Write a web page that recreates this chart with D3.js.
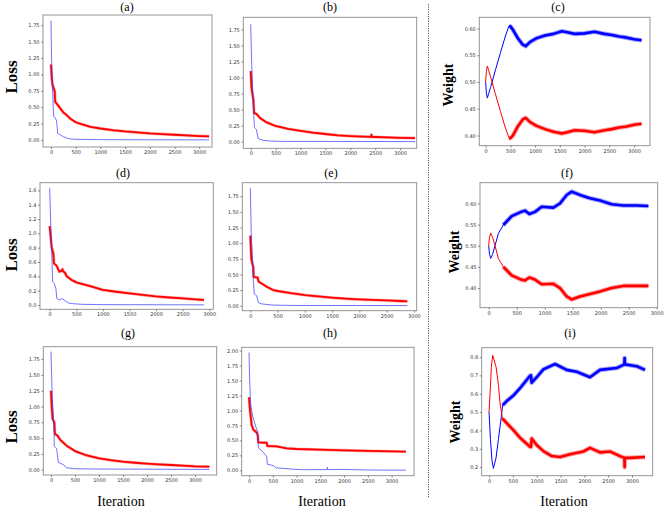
<!DOCTYPE html>
<html><head><meta charset="utf-8">
<script src="https://cdn.jsdelivr.net/npm/d3@7"></script>
<style>body{margin:0;background:#fff}</style></head>
<body>
<svg id="chart" width="664" height="508"></svg>
<script>
// ---------- data ----------
const xTicks = [0,500,1000,1500,2000,2500,3000];
const ticksA = [0,0.25,0.5,0.75,1.0,1.25,1.5,1.75];
const ticksD = [0,0.2,0.4,0.6,0.8,1.0,1.2,1.4,1.6];
const ticksH = [0,0.25,0.5,0.75,1.0,1.25,1.5,1.75,2.0];
const ticksC = [0.40,0.45,0.50,0.55,0.60];
const ticksI = [0.2,0.3,0.4,0.5,0.6,0.7,0.8];
const titles = ["(a)","(b)","(c)","(d)","(e)","(f)","(g)","(h)","(i)"];

const redA = [[0,1.15],[15,0.95],[30,0.85],[50,0.8],[75,0.74],[85,0.58],[120,0.55],[150,0.52],[200,0.47],[250,0.42],[300,0.39],[400,0.32],[500,0.27],[600,0.245],[800,0.2],[1000,0.175],[1250,0.15],[1500,0.13],[1750,0.115],[2000,0.1],[2250,0.09],[2500,0.08],[2750,0.07],[3000,0.06],[3200,0.055]];
const blueA = [[0,1.82],[10,1.3],[20,0.95],[35,0.7],[45,0.5],[55,0.36],[80,0.34],[110,0.3],[125,0.2],[135,0.1],[180,0.08],[250,0.05],[350,0.02],[500,0.01],[1000,0.005],[2000,0.003],[3200,0.002]];
const redB = [[0,1.1],[15,0.85],[33,0.75],[54,0.65],[67,0.45],[120,0.43],[187,0.37],[321,0.3],[500,0.245],[750,0.2],[1000,0.17],[1250,0.14],[1500,0.12],[1750,0.1],[2000,0.088],[2250,0.08],[2420,0.075],[2425,0.11],[2432,0.075],[2500,0.073],[2750,0.066],[3000,0.06],[3300,0.057]];
const blueB = [[0,1.83],[10,1.5],[20,1.2],[35,0.9],[50,0.6],[65,0.35],[75,0.22],[115,0.19],[130,0.12],[150,0.05],[250,0.02],[400,0.01],[600,0.005],[3300,0.002]];
const blueC = [[0,0.5],[15,0.48],[34,0.47],[60,0.478],[100,0.49],[200,0.523],[300,0.555],[400,0.586],[472,0.605],[500,0.604],[550,0.598],[650,0.582],[750,0.57],[809,0.567],[900,0.575],[1030,0.582],[1200,0.587],[1370,0.59],[1540,0.595],[1650,0.593],[1800,0.59],[2000,0.591],[2200,0.594],[2400,0.59],[2550,0.588],[2700,0.585],[2850,0.583],[3000,0.58],[3150,0.578]];
const redC = [[0,0.5],[15,0.52],[34,0.53],[60,0.522],[100,0.51],[200,0.477],[300,0.445],[400,0.414],[472,0.396],[500,0.395],[550,0.4],[650,0.417],[750,0.43],[809,0.433],[900,0.425],[1030,0.418],[1200,0.412],[1370,0.407],[1540,0.404],[1650,0.406],[1800,0.41],[2000,0.409],[2200,0.406],[2400,0.41],[2550,0.412],[2700,0.415],[2850,0.417],[3000,0.42],[3150,0.422]];
const redD = [[0,1.1],[19,0.95],[38,0.8],[69,0.72],[81,0.58],[130,0.55],[180,0.465],[230,0.48],[240,0.5],[250,0.47],[288,0.45],[320,0.4],[413,0.35],[500,0.316],[758,0.265],[1000,0.21],[1250,0.185],[1500,0.163],[1750,0.14],[2000,0.12],[2250,0.105],[2500,0.093],[2750,0.078],[2900,0.07]];
const blueD = [[0,1.63],[25,1.0],[44,0.6],[56,0.326],[88,0.3],[119,0.22],[132,0.093],[180,0.07],[238,0.09],[288,0.06],[351,0.03],[400,0.02],[600,0.01],[1000,0.005],[2900,0.002]];
const redE = [[0,1.12],[18,0.75],[43,0.65],[55,0.62],[61,0.46],[134,0.45],[153,0.384],[200,0.36],[300,0.304],[420,0.25],[500,0.235],[750,0.2],[1000,0.17],[1250,0.148],[1500,0.128],[1750,0.112],[2000,0.1],[2250,0.092],[2500,0.085],[2750,0.075],[2880,0.07]];
const blueE = [[0,1.88],[18,1.1],[43,0.7],[55,0.4],[73,0.187],[116,0.16],[147,0.05],[200,0.03],[400,0.01],[800,0.004],[2880,0.002]];
const blueF = [[0,0.5],[15,0.48],[36,0.47],[70,0.48],[113,0.5],[173,0.529],[262,0.549],[411,0.57],[560,0.579],[649,0.583],[726,0.575],[827,0.58],[946,0.592],[1155,0.59],[1274,0.6],[1393,0.62],[1482,0.628],[1631,0.62],[1810,0.612],[1988,0.607],[2196,0.598],[2405,0.595],[2643,0.595],[2851,0.594]];
const redF = [[0,0.5],[15,0.52],[36,0.53],[70,0.52],[113,0.5],[173,0.47],[262,0.45],[411,0.43],[560,0.421],[649,0.418],[726,0.425],[827,0.42],[946,0.409],[1155,0.41],[1274,0.4],[1393,0.38],[1482,0.373],[1631,0.38],[1810,0.386],[1988,0.392],[2196,0.4],[2405,0.405],[2643,0.405],[2851,0.405]];
const redG = [[0,1.25],[15,1.0],[35,0.8],[69,0.75],[83,0.564],[132,0.54],[208,0.459],[326,0.38],[500,0.295],[750,0.225],[1000,0.18],[1250,0.15],[1500,0.127],[1750,0.11],[2000,0.095],[2250,0.084],[2500,0.074],[2750,0.063],[3000,0.053],[3300,0.047]];
const blueG = [[0,1.87],[28,1.1],[62,0.7],[69,0.369],[118,0.33],[153,0.116],[257,0.08],[326,0.03],[500,0.015],[1000,0.01],[3300,0.005]];
const redH = [[0,1.22],[21,1.0],[56,0.757],[91,0.68],[161,0.63],[182,0.59],[196,0.468],[372,0.46],[386,0.406],[582,0.4],[792,0.367],[1000,0.356],[1500,0.345],[2000,0.334],[2500,0.323],[3300,0.312]];
const blueH = [[0,1.966],[14,1.5],[35,1.1],[77,0.9],[147,0.72],[182,0.646],[196,0.379],[301,0.3],[372,0.228],[386,0.1],[512,0.08],[568,0.04],[757,0.03],[898,0.02],[1143,0.01],[1640,0.012],[1648,0.05],[1656,0.012],[2000,0.015],[2500,0.005],[3300,0.002]];
const redI = [[0,0.5],[21,0.6],[50,0.75],[77,0.81],[147,0.747],[196,0.65],[231,0.55],[280,0.465],[371,0.44],[510,0.402],[650,0.36],[860,0.311],[880,0.31],[895,0.356],[1000,0.32],[1140,0.287],[1315,0.26],[1490,0.255],[1700,0.27],[1979,0.285],[2119,0.305],[2329,0.28],[2538,0.285],[2748,0.26],[2840,0.25],[2845,0.2],[2850,0.25],[2958,0.25],[3273,0.255]];
const blueI = [[0,0.5],[30,0.35],[60,0.24],[91,0.193],[147,0.25],[196,0.35],[245,0.45],[287,0.538],[371,0.56],[510,0.59],[650,0.63],[860,0.698],[880,0.7],[895,0.66],[1000,0.69],[1140,0.733],[1385,0.762],[1629,0.73],[1839,0.72],[2119,0.69],[2329,0.73],[2678,0.74],[2840,0.76],[2845,0.795],[2850,0.76],[3098,0.75],[3273,0.73]];

// ---------- layout ----------
const panels = [
  {t:0, kind:"loss",   box:[43,15,169,132],    xd:[-162,3259], yd:[-0.107,1.905], yt:ticksA, fmt:".2f", red:redA, blue:blueA},
  {t:1, kind:"loss",   box:[243.3,17.3,173.4,131], xd:[-149,3333], yd:[-0.103,1.94], yt:ticksA, fmt:".2f", red:redB, blue:blueB},
  {t:2, kind:"weight", box:[479.3,17.3,170.7,128.4], xd:[-128,3322], yd:[0.381,0.621], yt:ticksC, fmt:".2f", red:redC, blue:blueC, band:450},
  {t:3, kind:"loss",   box:[40,182.7,173.3,126.6], xd:[-182,3075], yd:[-0.06,1.707], yt:ticksD, fmt:".1f", red:redD, blue:blueD},
  {t:4, kind:"loss",   box:[242.3,182.7,174.4,128], xd:[-147,3051], yd:[-0.08,1.967], yt:ticksA, fmt:".2f", red:redE, blue:blueE},
  {t:5, kind:"weight", box:[480,182.7,177.7,125], xd:[-155,3018], yd:[0.3535,0.649], yt:ticksC, fmt:".2f", red:redF, blue:blueF, band:200},
  {t:6, kind:"loss",   box:[43.3,346.7,173.4,128.3], xd:[-160,3452], yd:[-0.084,1.946], yt:ticksA, fmt:".2f", red:redG, blue:blueG},
  {t:7, kind:"loss",   box:[241.7,347.3,172.3,128.4], xd:[-154,3471], yd:[-0.09,2.054], yt:ticksH, fmt:".2f", red:redH, blue:blueH},
  {t:8, kind:"weight", box:[481.7,347.7,171,128], xd:[-154,3434], yd:[0.153,0.851], yt:ticksI, fmt:".1f", red:redI, blue:blueI, band:250}
];
const titlePos = [[127,11],[330,11],[558,11],[123,177],[331,177],[567,177],[128,337],[330,337],[570,337]];

const svg = d3.select("#chart");

// dotted separator
svg.append("line").attr("x1",428.5).attr("x2",428.5).attr("y1",4).attr("y2",498)
  .attr("stroke","#555").attr("stroke-width",1).attr("stroke-dasharray","1.2,1.2");

panels.forEach(p => {
  const [bx,by,bw,bh] = p.box;
  const x = d3.scaleLinear().domain(p.xd).range([bx,bx+bw]);
  const y = d3.scaleLinear().domain(p.yd).range([by+bh,by]);
  const g = svg.append("g");
  const clipId = "clip"+p.t;
  svg.append("clipPath").attr("id",clipId).append("rect").attr("x",bx).attr("y",by).attr("width",bw).attr("height",bh);

  const line = d3.line().x(d=>x(d[0])).y(d=>y(d[1]));
  const plot = g.append("g").attr("clip-path",`url(#${clipId})`);
  if (p.kind === "loss") {
    plot.append("path").datum(p.red).attr("d",line).attr("fill","none")
      .attr("stroke","#ff0000").attr("stroke-opacity",0.35).attr("stroke-width",3).attr("stroke-linejoin","round");
    plot.append("path").datum(p.red).attr("d",line).attr("fill","none")
      .attr("stroke","#ff0000").attr("stroke-width",1.8).attr("stroke-linejoin","round");
    plot.append("path").datum(p.blue).attr("d",line).attr("fill","none")
      .attr("stroke","#3b3bff").attr("stroke-opacity",0.8).attr("stroke-width",0.9);
  } else {
    [["blue","#0000ff"],["red","#ff0000"]].forEach(([k,c]) => {
      plot.append("path").datum(p[k]).attr("d",line).attr("fill","none")
        .attr("stroke",c).attr("stroke-width",1);
      const band = p[k].filter(d=>d[0]>=p.band);
      plot.append("path").datum(band).attr("d",line).attr("fill","none")
        .attr("stroke",c).attr("stroke-opacity",0.35).attr("stroke-width",4.6).attr("stroke-linejoin","round");
      plot.append("path").datum(band).attr("d",line).attr("fill","none")
        .attr("stroke",c).attr("stroke-width",2.6).attr("stroke-linejoin","round");
    });
  }

  // frame
  g.append("rect").attr("x",bx).attr("y",by).attr("width",bw).attr("height",bh)
    .attr("fill","none").attr("stroke","#8a8a8a").attr("stroke-width",0.9);

  // axes
  const ax = g.append("g").attr("transform",`translate(0,${by+bh})`)
    .call(d3.axisBottom(x).tickValues(xTicks).tickFormat(d3.format("d")).tickSize(2).tickPadding(1.5));
  const ay = g.append("g").attr("transform",`translate(${bx},0)`)
    .call(d3.axisLeft(y).tickValues(p.yt).tickFormat(d3.format(p.fmt)).tickSize(2).tickPadding(1.5));
  [ax,ay].forEach(a => {
    a.select(".domain").remove();
    a.selectAll(".tick line").attr("stroke","#444").attr("stroke-width",0.6);
    a.selectAll(".tick text").attr("fill","#333").style("font-family","DejaVu Sans").style("font-size","5px");
  });

  // title
  svg.append("text").attr("x",titlePos[p.t][0]).attr("y",titlePos[p.t][1])
    .attr("text-anchor","middle").style("font-family","Liberation Serif").style("font-size","12px")
    .text(titles[p.t]);
});

// y-axis labels
const lossY = [77,255,427];
lossY.forEach(cy => {
  svg.append("text").attr("transform",`translate(17,${cy}) rotate(-90)`)
    .attr("text-anchor","middle").style("font-family","Liberation Serif").style("font-weight","bold")
    .style("font-size","17px").text("Loss");
});
const weightPos = [[453,85],[459,252],[460,422]];
weightPos.forEach(([cx,cy]) => {
  svg.append("text").attr("transform",`translate(${cx},${cy}) rotate(-90)`)
    .attr("text-anchor","middle").style("font-family","Liberation Serif").style("font-weight","bold")
    .style("font-size","14px").text("Weight");
});
// x-axis labels
[[121,506],[322,506],[564,506]].forEach(([cx,cy]) => {
  svg.append("text").attr("x",cx).attr("y",cy).attr("text-anchor","middle")
    .style("font-family","Liberation Serif").style("font-size","14px").text("Iteration");
});
</script>
</body></html>
